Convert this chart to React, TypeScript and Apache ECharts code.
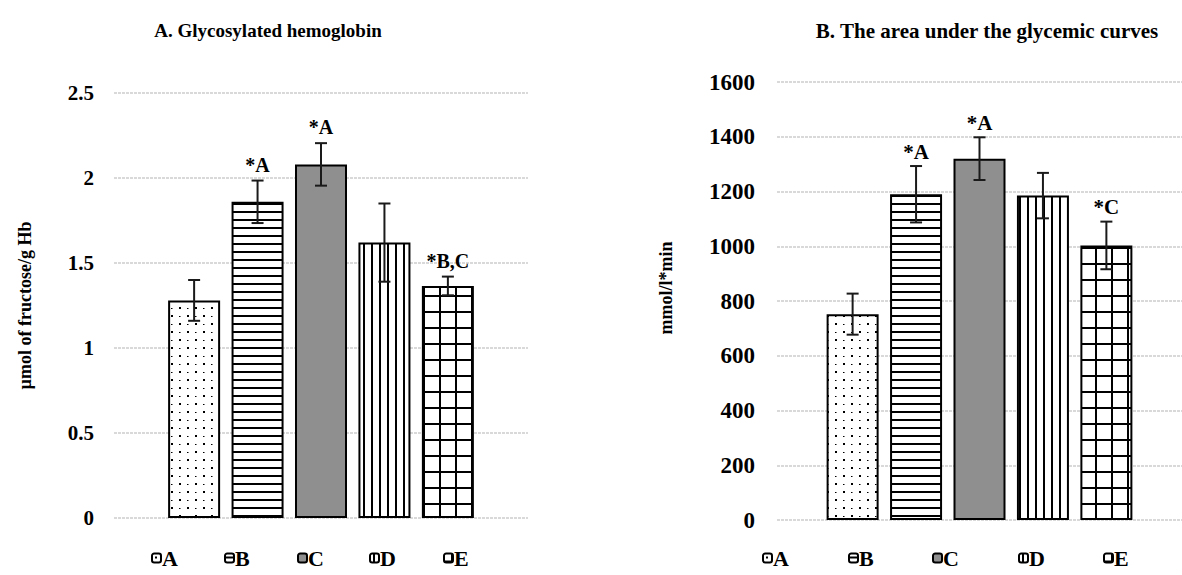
import React, { useEffect, useRef } from "react";
import * as echarts from "echarts";

// ---------- data ----------
const groups = ["A", "B", "C", "D", "E"];

const hbTicks = [0, 0.5, 1, 1.5, 2, 2.5];
const hbValues = [1.28, 1.86, 2.08, 1.62, 1.365];
const hbErrors = [0.12, 0.125, 0.125, 0.23, 0.055];
const hbMarks = ["", "*A", "*A", "", "*B,C"];

const aucTicks = [0, 200, 400, 600, 800, 1000, 1200, 1400, 1600];
const aucValues = [752, 1190, 1320, 1185, 1003];
const aucErrors = [75, 103, 78, 83, 87];
const aucMarks = ["", "*A", "*A", "", "*C"];

const titles = ["A. Glycosylated hemoglobin", "B. The area under the glycemic curves"];
const yNames = ["\u00b5mol of fructose/g Hb", "mmol/l*min"];

// ---------- style ----------
const FONT = "'Liberation Serif', 'Times New Roman', serif";
const BAR_WIDTH = 52;
const BAR_GAP = 0.22;

function tile(w: number, h: number, draw: (ctx: CanvasRenderingContext2D) => void) {
  const c = document.createElement("canvas");
  c.width = w;
  c.height = h;
  const ctx = c.getContext("2d") as CanvasRenderingContext2D;
  ctx.fillStyle = "#ffffff";
  ctx.fillRect(0, 0, w, h);
  ctx.fillStyle = "#000000";
  draw(ctx);
  return { image: c.toDataURL(), repeat: "repeat", imageWidth: w, imageHeight: h };
}

function makePatterns() {
  const dots = tile(16, 16, (ctx) => {
    ctx.fillRect(3, 3, 2, 2);
    ctx.fillRect(11, 11, 2, 2);
    ctx.fillRect(11, 4, 1.5, 1);
    ctx.fillRect(3, 12, 1.5, 1);
  });
  const hLines = tile(8, 8, (ctx) => {
    ctx.fillRect(0, 3, 8, 2);
  });
  const gray = "#8f8f8f";
  const vLines = tile(8, 8, (ctx) => {
    ctx.fillRect(3, 0, 2, 8);
  });
  const grid = tile(16, 16, (ctx) => {
    ctx.fillRect(7, 0, 2, 16);
    ctx.fillRect(0, 7, 16, 2);
  });
  return [dots, hLines, gray, vLines, grid];
}

function errorSeries(gi: number, values: number[], errors: number[], marks: string[], markSize: number, markGap: number) {
  return {
    type: "custom",
    xAxisIndex: gi,
    yAxisIndex: gi,
    z: 10,
    silent: true,
    data: values.map((v, i) => [0, v, errors[i], i]),
    renderItem: (_p: any, api: any) => {
      const idx = api.value(3);
      const v = api.value(1);
      const e = api.value(2);
      const c = api.coord([0, v]);
      const step = BAR_WIDTH * (1 + BAR_GAP);
      const x = c[0] + (idx - (values.length - 1) / 2) * step;
      const top = api.coord([0, v + e])[1];
      const bot = api.coord([0, v - e])[1];
      const cap = 6;
      const style = { stroke: "#1a1a1a", lineWidth: 2 };
      const children: any[] = [
        { type: "line", shape: { x1: x, y1: top, x2: x, y2: bot }, style },
        { type: "line", shape: { x1: x - cap, y1: top, x2: x + cap, y2: top }, style },
        { type: "line", shape: { x1: x - cap, y1: bot, x2: x + cap, y2: bot }, style },
      ];
      const m = marks[idx];
      if (m) {
        children.push({
          type: "text",
          style: {
            text: m,
            x,
            y: top - markGap,
            align: "center",
            verticalAlign: "bottom",
            fontFamily: FONT,
            fontWeight: "bold",
            fontSize: markSize,
            fill: "#000",
          },
        });
      }
      return { type: "group", children };
    },
  };
}

export default function App() {
  const ref = useRef<HTMLDivElement>(null);

  useEffect(() => {
    if (!ref.current) return;
    const chart = echarts.init(ref.current, undefined, { renderer: "svg" });
    const patterns = makePatterns();

    const grids = [
      { left: 114, top: 93, width: 414, height: 425 },
      { left: 777, top: 82, width: 415, height: 438 },
    ];
    const ticks = [hbTicks, aucTicks];
    const labelSizes = [21, 23];
    const labelMargins = [20, 22];

    const xAxis = grids.map((_g, gi) => ({
      type: "category",
      gridIndex: gi,
      data: [""],
      axisLine: { show: false },
      axisTick: { show: false },
      axisLabel: { show: false },
    }));

    const nameStyle = { fontFamily: FONT, fontWeight: "bold", fontSize: 18, color: "#000" };

    const yAxis = grids.map((_g, gi) => ({
      type: "value",
      gridIndex: gi,
      min: ticks[gi][0],
      max: ticks[gi][ticks[gi].length - 1],
      interval: ticks[gi][1] - ticks[gi][0],
      name: gi === 0 ? yNames[0] : "",
      nameLocation: "middle",
      nameRotate: 90,
      nameGap: 80,
      nameTextStyle: nameStyle,
      axisLine: { show: false },
      axisTick: { show: false },
      axisLabel: {
        fontFamily: FONT,
        fontWeight: "bold",
        fontSize: labelSizes[gi],
        color: "#000",
        margin: labelMargins[gi],
        formatter: (v: number) => String(v),
      },
      splitLine: { lineStyle: { color: "#cdcdcd", width: 1.5, type: [3, 1] } },
    }));

    const series: any[] = [];
    [hbValues, aucValues].forEach((vals, gi) => {
      groups.forEach((g, i) => {
        series.push({
          type: "bar",
          name: g,
          xAxisIndex: gi,
          yAxisIndex: gi,
          barWidth: BAR_WIDTH,
          barGap: BAR_GAP * 100 + "%",
          data: [vals[i]],
          itemStyle: { color: patterns[i], borderColor: "#000", borderWidth: 2 },
          emphasis: { disabled: true },
        });
      });
    });
    series.push(errorSeries(0, hbValues, hbErrors, hbMarks, 20, 6));
    series.push(errorSeries(1, aucValues, aucErrors, aucMarks, 21, 4));

    const legendLefts = [
      [151, 224, 297, 369, 443],
      [762, 848, 932, 1018, 1103],
    ];
    const legend: any[] = [];
    legendLefts.forEach((row) => {
      row.forEach((lx, i) => {
        legend.push({
          data: [groups[i]],
          left: lx,
          top: 547,
          padding: 0,
          itemWidth: 9,
          itemHeight: 9,
          itemGap: 0,
          selectedMode: false,
          textStyle: { fontFamily: FONT, fontWeight: "bold", fontSize: 22, color: "#000", padding: [0, 0, 0, -4] },
        });
      });
    });

    chart.setOption({
      animation: false,
      backgroundColor: "#ffffff",
      title: [
        {
          text: titles[0],
          left: 263,
          top: 16,
          textAlign: "center",
          textStyle: { fontFamily: FONT, fontWeight: "bold", fontSize: 19, color: "#000" },
        },
        {
          text: titles[1],
          left: 982,
          top: 15,
          textAlign: "center",
          textStyle: { fontFamily: FONT, fontWeight: "bold", fontSize: 21, color: "#000" },
        },
      ],
      graphic: [
        {
          type: "text",
          x: 666,
          y: 288,
          rotation: Math.PI / 2,
          style: {
            text: yNames[1],
            align: "center",
            verticalAlign: "middle",
            fontFamily: FONT,
            fontWeight: "bold",
            fontSize: 18,
            fill: "#000",
          },
        },
      ],
      grid: grids,
      xAxis,
      yAxis,
      legend,
      series,
    });

    return () => chart.dispose();
  }, []);

  return (
    <div
      ref={ref}
      style={{ position: "fixed", left: 0, top: 0, width: 1182, height: 575, background: "#fff" }}
    />
  );
}
